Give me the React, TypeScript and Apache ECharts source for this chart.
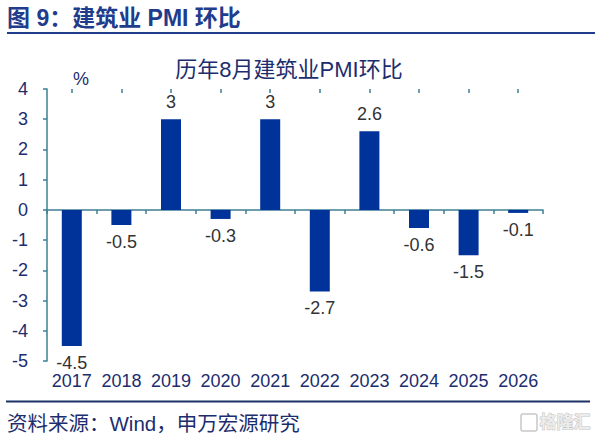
import React, { useEffect, useRef } from "react";
import * as echarts from "echarts";

const years = ["2017", "2018", "2019", "2020", "2021", "2022", "2023", "2024", "2025", "2026"];
const values = [-4.5, -0.5, 3, -0.3, 3, -2.7, 2.6, -0.6, -1.5, -0.1];
const yMin = -5;
const yMax = 4;

const FONT = '"Liberation Sans", Arial, "Noto Sans CJK SC", sans-serif';
const NAVY = "#1c2d6e";
const AXIS = "#3d7f93";

export default function App() {
  const ref = useRef<HTMLDivElement>(null);
  useEffect(() => {
    if (!ref.current) return;
    const chart = echarts.init(ref.current, null, { renderer: "svg" });
    chart.setOption({
      animation: false,
      backgroundColor: "#ffffff",
      textStyle: { fontFamily: FONT },
      title: {
        text: "历年8月建筑业PMI环比",
        left: 284,
        textAlign: "center",
        top: 53,
        textStyle: { fontSize: 22, fontWeight: "normal", color: NAVY, fontFamily: FONT },
      },
      grid: { left: 47, right: 52, top: 89, bottom: 78, containLabel: false },
      xAxis: [
        {
          type: "category",
          data: years,
          axisLine: { onZero: true, lineStyle: { color: AXIS, width: 1.5 } },
          axisTick: { show: true, length: 4, lineStyle: { color: AXIS, width: 1.5 } },
          axisLabel: { show: false },
          splitLine: { show: false },
        },
        {
          type: "category",
          data: years,
          position: "bottom",
          axisLine: { show: false, onZero: false },
          axisTick: { show: false },
          axisLabel: { show: true, interval: 0, color: NAVY, fontSize: 18, margin: 11, fontFamily: FONT },
          splitLine: { show: false },
        },
        {
          type: "category",
          data: years,
          axisLine: { show: false, onZero: true },
          axisTick: { show: true, inside: true, alignWithLabel: true, interval: 0, length: 4, lineStyle: { color: AXIS, width: 1.5 } },
          axisLabel: { show: false },
          splitLine: { show: false },
        },
      ],
      yAxis: {
        type: "value",
        min: yMin,
        max: yMax,
        interval: 1,
        axisLine: { show: true, lineStyle: { color: AXIS, width: 1.5 } },
        axisTick: { show: true, length: 4, lineStyle: { color: AXIS, width: 1.5 } },
        axisLabel: { color: NAVY, fontSize: 18, margin: 19, fontFamily: FONT },
        splitLine: { show: false },
      },
      series: [
        {
          type: "bar",
          xAxisIndex: 0,
          data: values.map((v) => ({
            value: v,
            label: { position: v >= 0 ? "top" : "bottom" },
          })),
          barWidth: 20,
          itemStyle: { color: "#003399" },
          label: {
            show: true,
            distance: 8,
            fontSize: 18,
            color: "#333333",
            fontFamily: FONT,
          },
        },
      ],
      graphic: [
        {
          type: "text",
          left: 7,
          top: 6,
          style: { text: "图 9：建筑业 PMI 环比", fill: "#1f3d8c", font: `bold 23px ${FONT}` },
        },
        {
          type: "line",
          shape: { x1: 7, y1: 33, x2: 595, y2: 33 },
          style: { stroke: "#1f3d8c", lineWidth: 2 },
        },
        {
          type: "text",
          left: 73,
          top: 70,
          style: { text: "%", fill: NAVY, font: `18px ${FONT}` },
        },
        {
          type: "line",
          shape: { x1: 6, y1: 401.5, x2: 590, y2: 401.5 },
          style: { stroke: "#1c3166", lineWidth: 2 },
        },
        {
          type: "text",
          left: 7,
          top: 413,
          style: { text: "资料来源：Wind，申万宏源研究", fill: NAVY, font: `20.5px ${FONT}` },
        },
        {
          type: "rect",
          shape: { x: 521, y: 414, width: 16, height: 17, r: 2 },
          style: { fill: "none", stroke: "#c8c8c8", lineWidth: 1.5 },
        },
        {
          type: "text",
          left: 539,
          top: 413,
          style: { text: "格隆汇", fill: "#ececec", stroke: "#c4c4c4", lineWidth: 1, font: `bold 17px ${FONT}` },
        },
      ],
    });
    return () => chart.dispose();
  }, []);
  return (
    <div
      ref={ref}
      style={{ position: "fixed", left: 0, top: 0, width: 595, height: 439 }}
    />
  );
}
